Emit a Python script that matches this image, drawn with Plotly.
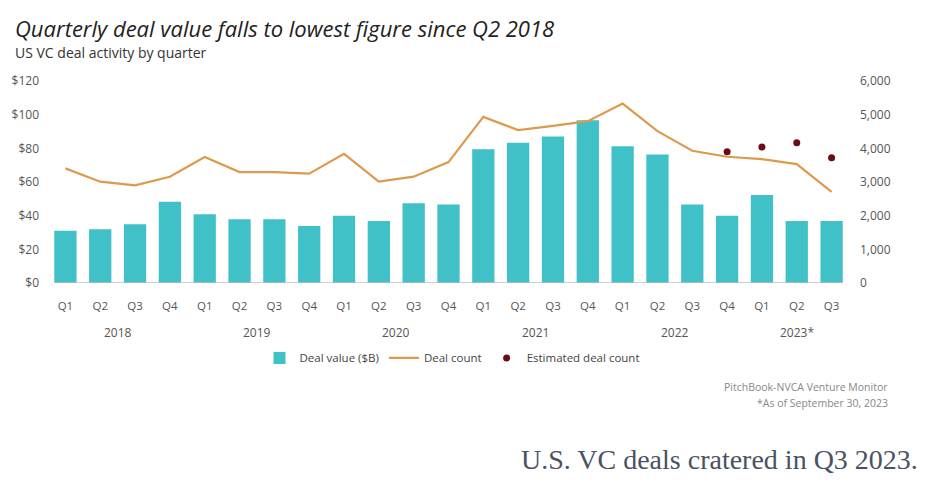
import plotly.graph_objects as go

quarters = ["Q1", "Q2", "Q3", "Q4"] * 5 + ["Q1", "Q2", "Q3"]
years = ["2018", "2019", "2020", "2021", "2022", "2023*"]
deal_value = [31.0, 32.0, 34.9, 48.3, 40.9, 37.9, 37.9, 33.9, 39.9, 36.9, 47.4, 46.6,
              79.4, 83.3, 87.0, 96.7, 81.3, 76.4, 46.6, 39.9, 52.3, 36.9, 36.9]
deal_count = [3405, 3009, 2902, 3157, 3740, 3296, 3296, 3246, 3838, 3009, 3157, 3592,
              4934, 4540, 4668, 4806, 5330, 4510, 3927, 3750, 3681, 3533, 2704]
est_count = [None] * 19 + [3897, 4036, 4164, 3720]
left_ticks = [0, 20, 40, 60, 80, 100, 120]
left_labels = ["$0", "$20", "$40", "$60", "$80", "$100", "$120"]
right_ticks = [0, 1000, 2000, 3000, 4000, 5000, 6000]
right_labels = ["0", "1,000", "2,000", "3,000", "4,000", "5,000", "6,000"]

x = list(range(len(quarters)))
year_pos = [1.5, 5.5, 9.5, 13.5, 17.5, 21]

TEAL = "#40C1C8"
ORANGE = "#DE9A4C"
DOT = "#6B0B14"
FONT = "Open Sans"

fig = go.Figure()
fig.add_trace(go.Bar(x=x, y=deal_value, name="Deal value ($B)", marker_color=TEAL,
                     marker_line_width=0))
fig.add_trace(go.Scatter(x=x, y=deal_count, name="Deal count", mode="lines",
                         line=dict(color=ORANGE, width=2.2), yaxis="y2"))
fig.add_trace(go.Scatter(x=x, y=est_count, name="Estimated deal count", mode="markers",
                         marker=dict(color=DOT, size=7), yaxis="y2"))

fig.update_layout(
    width=935, height=486,
    margin=dict(l=43, r=86, t=81, b=203),
    paper_bgcolor="white", plot_bgcolor="white",
    bargap=0.36,
    font=dict(family=FONT, color="#555"),
    showlegend=True,
    legend=dict(orientation="h", x=0.505, xanchor="center", y=-0.371, yanchor="middle",
                font=dict(size=11.5, color="#444", family=FONT), itemwidth=30,
                traceorder="normal"),
    xaxis=dict(tickmode="array", tickvals=x, ticktext=quarters, range=[-0.5, 22.5],
               showgrid=False, zeroline=False, showline=False, ticks="",
               tickfont=dict(size=11.5, color="#555"), ticklabelstandoff=14),
    yaxis=dict(range=[0, 120], tickvals=left_ticks, ticktext=left_labels,
               showgrid=False, zeroline=False, showline=False, ticks="",
               tickfont=dict(size=12, color="#555"), ticklabelstandoff=8),
    yaxis2=dict(range=[0, 6000], tickvals=right_ticks, ticktext=right_labels,
                overlaying="y", side="right", showgrid=False, zeroline=False,
                showline=False, ticks="", tickfont=dict(size=12, color="#555"),
                ticklabelstandoff=10),
)

fig.add_shape(type="line", xref="x", yref="y", x0=-0.32, x1=22.32, y0=0, y1=0,
              line=dict(color="#BDBDBD", width=1.5), layer="above")

for yr, p in zip(years, year_pos):
    fig.add_annotation(text=yr, x=p, xref="x", y=-0.2475, yref="paper", showarrow=False,
                       font=dict(size=12, color="#555"), yanchor="middle")

fig.add_annotation(text="<i>Quarterly deal value falls to lowest figure since Q2 2018</i>",
                   xref="paper", yref="paper", x=-0.0438, y=1.262, xanchor="left",
                   yanchor="middle", showarrow=False,
                   font=dict(size=22, color="#222", family=FONT))
fig.add_annotation(text="US VC deal activity by quarter",
                   xref="paper", yref="paper", x=-0.0438, y=1.143, xanchor="left",
                   yanchor="middle", showarrow=False,
                   font=dict(size=14, color="#333", family=FONT))
fig.add_annotation(text="PitchBook-NVCA Venture Monitor", xref="paper", yref="paper",
                   x=1.051, y=-0.515, xanchor="right", yanchor="middle", showarrow=False,
                   font=dict(size=10.5, color="#888", family=FONT))
fig.add_annotation(text="*As of September 30, 2023", xref="paper", yref="paper",
                   x=1.051, y=-0.594, xanchor="right", yanchor="middle", showarrow=False,
                   font=dict(size=10.5, color="#888", family=FONT))
fig.add_annotation(text="U.S. VC deals cratered in Q3 2023.", xref="paper", yref="paper",
                   x=(517 - 43) / 806, y=-0.876, xanchor="left", yanchor="middle",
                   showarrow=False,
                   font=dict(size=28, color="#4A5262", family="Liberation Serif"))

fig.write_html("out.html")
